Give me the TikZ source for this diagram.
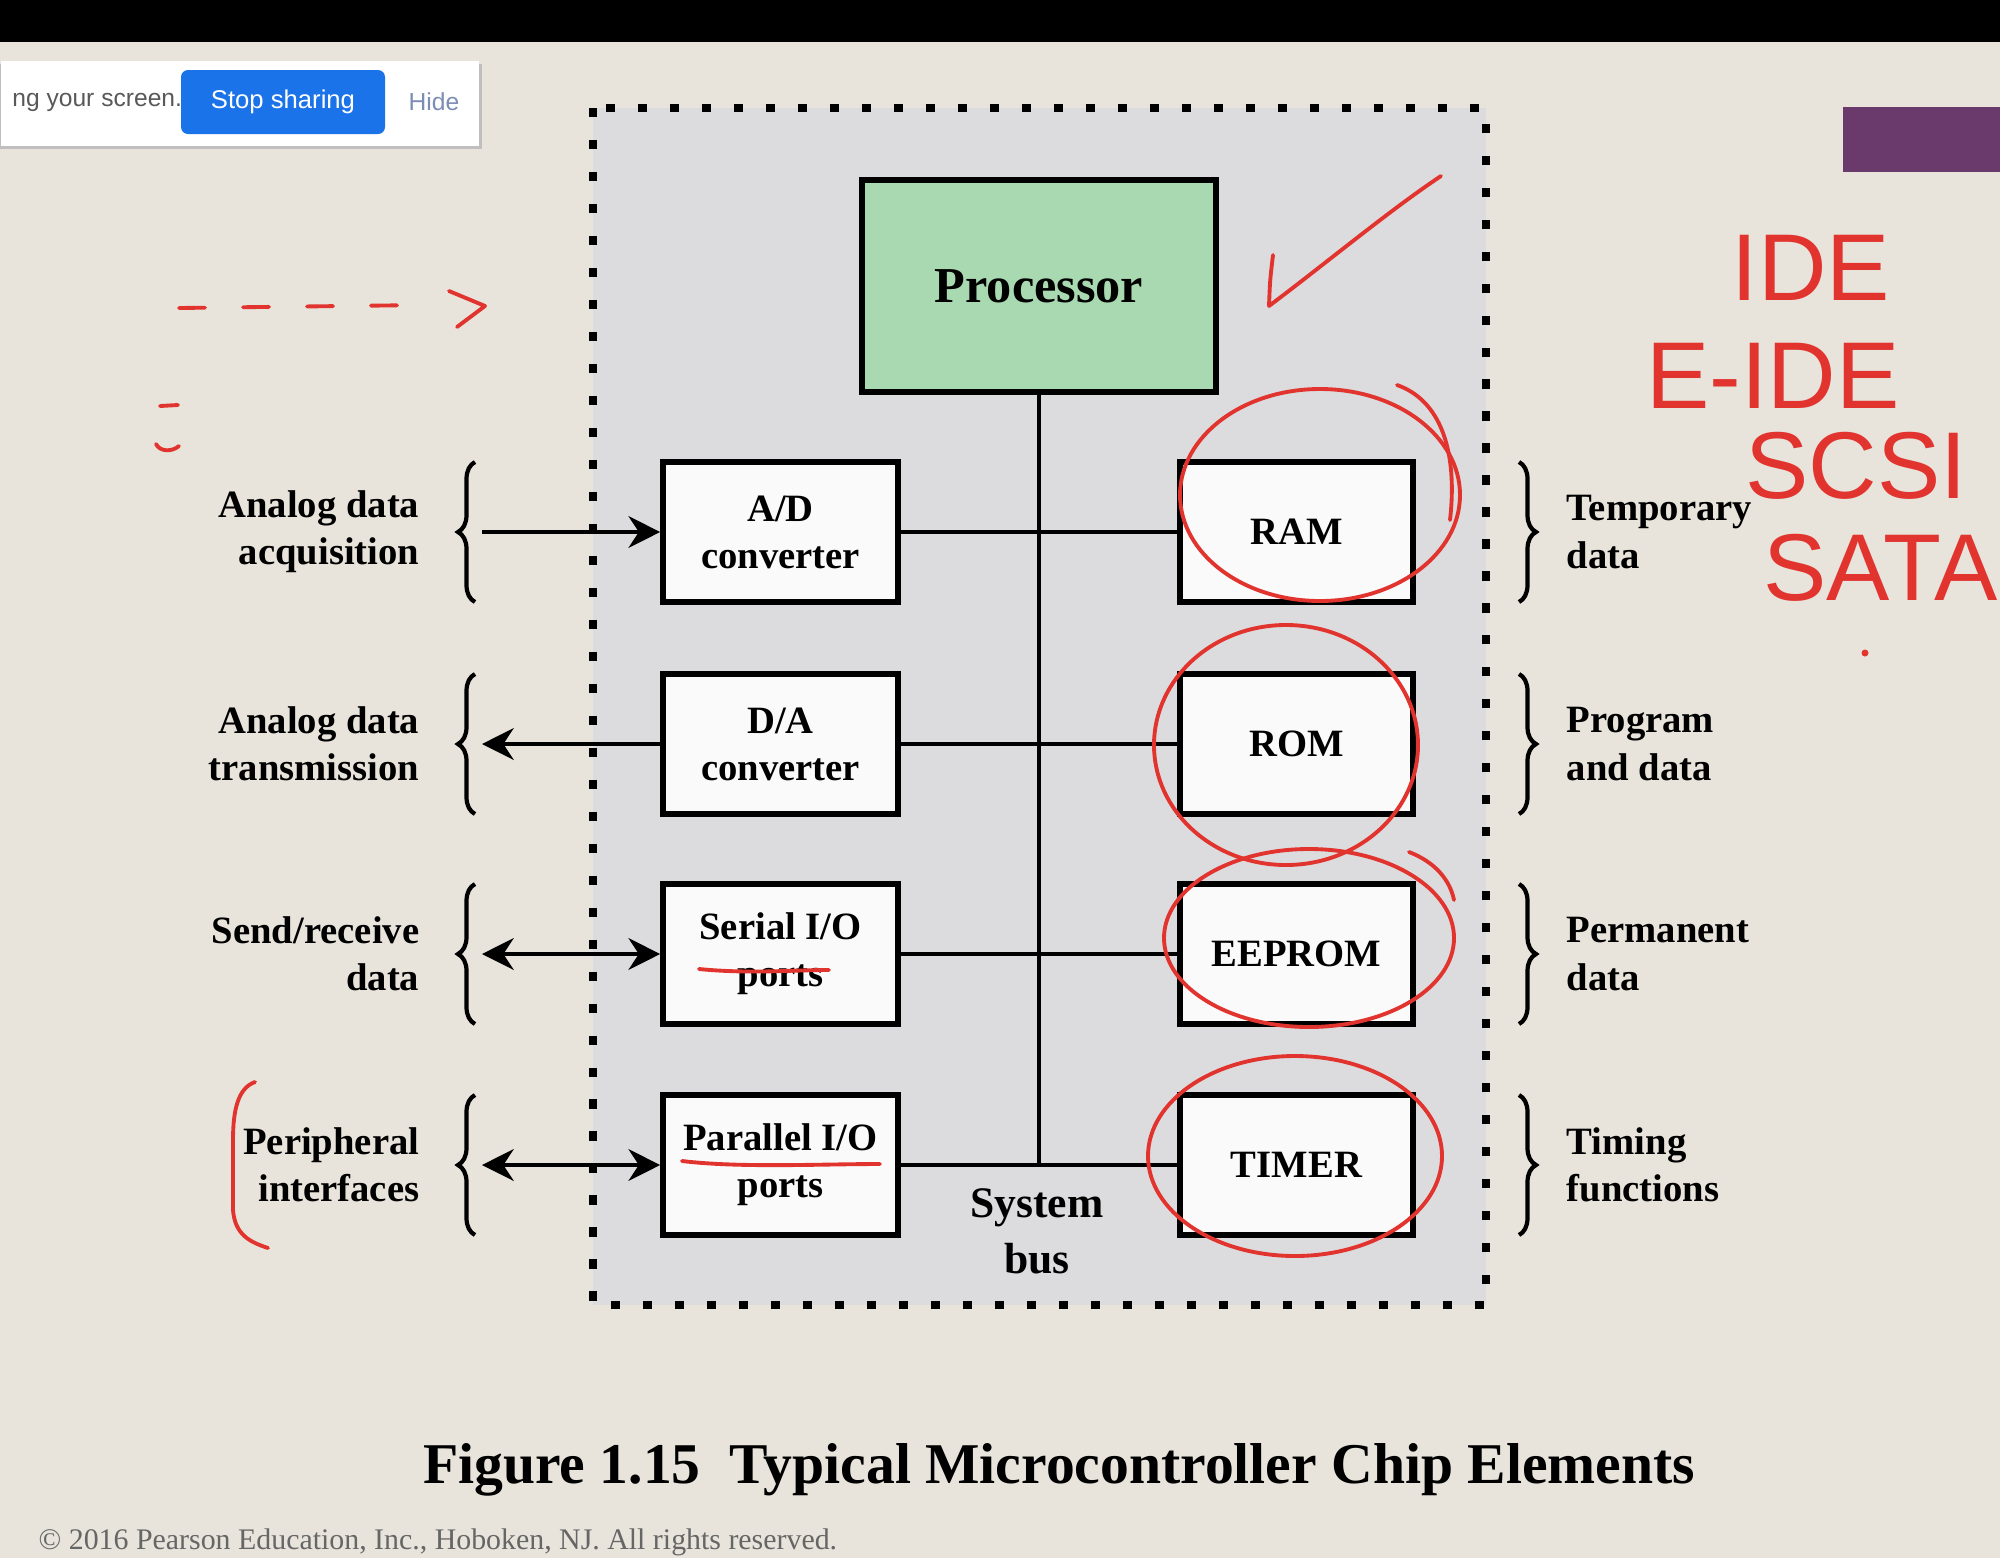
\documentclass[tikz,border=0pt]{standalone}
\usepackage{fontspec}
\setmainfont{Liberation Serif}
\newfontfamily\uifont{Liberation Sans}
\usepackage{xcolor}
\usetikzlibrary{arrows.meta, positioning, calc, decorations.pathreplacing}

\definecolor{layar}{HTML}{E8E4DB}
\definecolor{chip}{HTML}{DCDCDE}
\definecolor{hijau}{HTML}{A9D9B1}
\definecolor{tinta}{HTML}{E2342F}
\definecolor{tombol}{HTML}{1A73E8}
\definecolor{ungu}{HTML}{6A3A6C}

\begin{document}
\begin{tikzpicture}[
    font=\fontsize{11}{13.4}\selectfont\bfseries,
    kotak/.style={draw, line width=1.6pt, fill=white!96!gray, align=center,
                  minimum width=2.35cm, minimum height=1.40cm, inner sep=1pt},
    kiri/.style={align=right, anchor=east, inner sep=0pt},
    kanan/.style={align=left, anchor=west, inner sep=0pt},
    panah/.style={-{Stealth[length=9pt, width=9pt]}, line width=1.3pt},
    duapanah/.style={{Stealth[length=9pt, width=9pt]}-{Stealth[length=9pt, width=9pt]}, line width=1.3pt},
    bus/.style={line width=1.3pt},
    kurung/.style={decorate, decoration={brace, amplitude=0.17cm}, line width=1.2pt},
    coretan/.style={draw=tinta, line width=1.1pt, line cap=round, line join=round},
    tulisan/.style={text=tinta, inner sep=0pt, font=\uifont\fontsize{27}{30}\selectfont}
  ]
    \useasboundingbox (0,0) rectangle (20,-15.58);
    \clip (0,0) rectangle (20,-15.58);
    \fill[layar] (0,0) rectangle (20,-15.58);
    \fill[black] (0,0) rectangle (20,-0.42);
    \fill[ungu] (18.43,-1.07) rectangle (20,-1.72);

    % jendela berbagi layar
    \fill[black!25] (0,-0.64) rectangle (4.82,-1.49);
    \node[fill=white, minimum width=4.78cm, minimum height=0.85cm, anchor=north west,
          inner sep=0pt] (popup) at (0,-0.60) {};
    \node[anchor=west, text=black!65, font=\uifont\fontsize{7}{8}\selectfont]
      (teks) at (0.0,-1.02) {ng your screen.};
    \node[fill=tombol, rounded corners=0.07cm, minimum width=2.04cm, minimum height=0.64cm,
          text=white, font=\uifont\fontsize{7.3}{8}\selectfont] (stop) at (2.83,-1.02) {Stop sharing};
    \node[text={rgb,255:red,124;green,141;blue,181}, font=\uifont\fontsize{7}{8}\selectfont]
      (hide) at (4.34,-1.02) {Hide};

    % chip
    \fill[chip] (5.93,-1.08) rectangle (14.86,-13.05);
    \draw[line width=2.3pt, dash pattern=on 2.6pt off 6.5pt] (5.93,-1.08) rectangle (14.86,-13.05);

    \node[kotak, fill=hijau, minimum width=3.54cm, minimum height=2.12cm,
          font=\fontsize{14.3}{17}\selectfont\bfseries] (prosesor) at (10.39,-2.86) {Processor};
    \node[kotak] (ad) at (7.805,-5.32) {A/D\\converter};
    \node[kotak] (da) at (7.805,-7.44) {D/A\\converter};
    \node[kotak] (serial) at (7.805,-9.54) {Serial I/O\\ports};
    \node[kotak] (paralel) at (7.805,-11.65) {Parallel I/O\\ports};
    \node[kotak, minimum width=2.33cm] (ram) at (12.965,-5.32) {RAM};
    \node[kotak, minimum width=2.33cm] (rom) at (12.965,-7.44) {ROM};
    \node[kotak, minimum width=2.33cm] (eeprom) at (12.965,-9.54) {EEPROM};
    \node[kotak, minimum width=2.33cm] (timer) at (12.965,-11.65) {TIMER};

    \draw[bus] (prosesor.south) -- (prosesor.south |- paralel);
    \draw[bus] (ad) -- (ram);
    \draw[bus] (da) -- (rom);
    \draw[bus] (serial) -- (eeprom);
    \draw[bus] (paralel) -- (timer);
    \node[font=\fontsize{12.4}{16}\selectfont\bfseries, align=center] (sysbus) at (10.37,-12.31)
      {System\\bus};

    % sisi kiri
    \foreach \kotaknya/\y in {ad/-5.32, da/-7.44, serial/-9.54, paralel/-11.65}{
      \draw[kurung] (4.75,\y-0.70) -- (4.75,\y+0.70);
      \coordinate (k-\kotaknya) at (4.82,\y);
    }
    \draw[panah] (k-ad) -- (ad);
    \draw[panah] (da) -- (k-da);
    \draw[duapanah] (k-serial) -- (serial);
    \draw[duapanah] (k-paralel) -- (paralel);
    \node[kiri] (lad) at (4.20,-5.32) {Analog data\\acquisition};
    \node[kiri] (lda) at (4.20,-7.44) {Analog data\\transmission};
    \node[kiri] (lserial) at (4.20,-9.54) {Send/receive\\data};
    \node[kiri] (lparalel) at (4.20,-11.65) {Peripheral\\interfaces};

    % sisi kanan
    \foreach \y in {-5.32, -7.44, -9.54, -11.65}{
      \draw[kurung] (15.19,\y+0.70) -- (15.19,\y-0.70);
    }
    \node[kanan] (lram) at (15.66,-5.32) {Temporary\\data};
    \node[kanan] (lrom) at (15.66,-7.44) {Program\\and data};
    \node[kanan] (leeprom) at (15.66,-9.54) {Permanent\\data};
    \node[kanan] (ltimer) at (15.66,-11.65) {Timing\\functions};

    \node[font=\fontsize{16.4}{20}\selectfont\bfseries] (judul) at (10.59,-14.70)
      {Figure 1.15\ \ Typical Microcontroller Chip Elements};
    \node[anchor=south west, inner sep=0pt, text=black!60, font=\fontsize{8.5}{10}\selectfont\mdseries]
      (hakcipta) at (0.38,-15.57) {\textcopyright{} 2016 Pearson Education, Inc., Hoboken, NJ. All rights reserved.};

    % coretan tangan
    \draw[coretan, dash pattern=on 0.26cm off 0.38cm] (1.79,-3.08) -- (4.25,-3.05);
    \draw[coretan] (4.49,-2.91) -- (4.85,-3.06) -- (4.57,-3.27);
    \draw[coretan] (1.60,-4.06) -- (1.78,-4.05);
    \draw[coretan] (1.56,-4.44) .. controls (1.60,-4.52) and (1.72,-4.52) .. (1.79,-4.46);
    \draw[coretan] (12.73,-2.55) .. controls (12.70,-2.80) .. (12.69,-3.06)
      .. controls (13.3,-2.6) and (13.9,-2.1) .. (14.41,-1.76);
    \draw[coretan] (13.20,-4.95) ellipse [x radius=1.40, y radius=1.06];
    \draw[coretan] (13.97,-3.85) .. controls (14.40,-4.00) and (14.58,-4.50) .. (14.50,-5.20);
    \draw[coretan] (12.86,-7.45) ellipse [x radius=1.32, y radius=1.20];
    \draw[coretan] (13.09,-9.38) ellipse [x radius=1.45, y radius=0.89];
    \draw[coretan] (14.09,-8.52) .. controls (14.35,-8.62) and (14.50,-8.80) .. (14.54,-9.00);
    \draw[coretan] (12.95,-11.56) ellipse [x radius=1.47, y radius=1.00];
    \draw[coretan] (6.99,-9.69) .. controls (7.5,-9.74) and (7.9,-9.70) .. (8.29,-9.70);
    \draw[coretan] (6.82,-11.61) .. controls (7.4,-11.68) and (8.2,-11.64) .. (8.80,-11.64);
    \draw[coretan] (2.55,-10.82) .. controls (2.38,-10.88) and (2.33,-11.10) .. (2.33,-11.40)
      -- (2.33,-12.10) .. controls (2.35,-12.35) and (2.50,-12.42) .. (2.68,-12.48);
    \node[tulisan] (ide) at (18.11,-2.68) {IDE};
    \node[tulisan] (eide) at (17.73,-3.76) {E-IDE};
    \node[tulisan] (scsi) at (18.56,-4.66) {SCSI};
    \node[tulisan, anchor=east] (sata) at (19.98,-5.68) {SATA};
    \fill[tinta] (18.65,-6.53) circle (0.035);
  \end{tikzpicture}
\end{document}
